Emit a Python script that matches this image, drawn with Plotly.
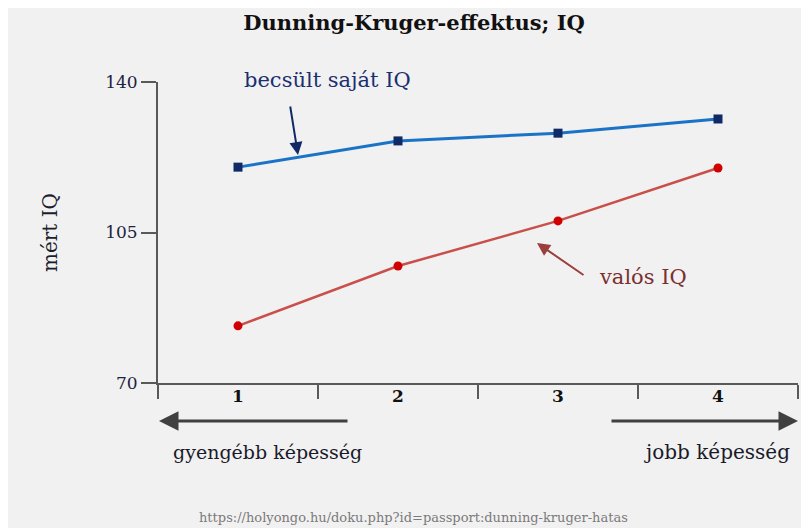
import plotly.graph_objects as go

categories = [1, 2, 3, 4]
becsult_iq = [120.2, 126.3, 128.1, 131.4]
valos_iq = [83.3, 97.2, 107.7, 120.0]
y_ticks = [70, 105, 140]
boundaries = [0.5, 1.5, 2.5, 3.5, 4.5]

SERIF = "DejaVu Serif"
OFF = 8  # page body margin

fig = go.Figure()
fig.add_trace(go.Scatter(
    x=categories, y=becsult_iq, mode="lines+markers",
    line=dict(color="#1a73c6", width=3),
    marker=dict(symbol="square", size=9, color="#0f2a66"),
    showlegend=False, hoverinfo="x+y"))
fig.add_trace(go.Scatter(
    x=categories, y=valos_iq, mode="lines+markers",
    line=dict(color="#c9504a", width=2.5),
    marker=dict(symbol="circle", size=9, color="#d00000"),
    showlegend=False, hoverinfo="x+y"))

W, H = 809, 528
L, T = 158 - OFF, 82 - OFF
PW, PH = 640, 301
R, B = W - L - PW, H - T - PH

def px(x):
    return (x - OFF - L) / PW

def py(y):
    return (T + PH - (y - OFF)) / PH

fig.update_layout(
    width=W, height=H,
    margin=dict(l=L, r=R, t=T, b=B),
    paper_bgcolor="#f1f1f1",
    plot_bgcolor="#f1f1f1",
    title=dict(text="<b>Dunning-Kruger-effektus; IQ</b>", x=px(414), xref="paper",
               xanchor="center", y=1 - (23 - OFF) / H, yanchor="middle",
               font=dict(family=SERIF, size=21, color="#111111")),
    xaxis=dict(range=[0.5, 4.5], tickvals=categories,
               ticktext=["<b>%d</b>" % c for c in categories],
               ticks="", showgrid=False, zeroline=False,
               showline=True, linecolor="#595959", linewidth=2,
               ticklabelstandoff=-3,
               tickfont=dict(family=SERIF, size=17, color="#111111"),
               minor=dict(tickvals=boundaries, ticks="outside", ticklen=14,
                          tickwidth=2, tickcolor="#595959", showgrid=False)),
    yaxis=dict(range=[70, 140], tickvals=y_ticks, ticks="outside", ticklen=15,
               tickwidth=2, tickcolor="#595959", showgrid=False, zeroline=False,
               showline=True, linecolor="#595959", linewidth=2,
               tickfont=dict(family=SERIF, size=17, color="#1c2340"),
               title=dict(text="mért IQ", standoff=42,
                          font=dict(family=SERIF, size=20, color="#1c1c2c"))),
)

def label(x, y, text, size, color):
    return dict(x=px(x), y=py(y), xref="paper", yref="paper", text=text,
                xanchor="center", yanchor="middle", showarrow=False,
                font=dict(family=SERIF, size=size, color=color))

def arrow(x, y, ax, ay, width, color, size=1.3):
    return dict(x=px(x), y=py(y), xref="paper", yref="paper", text="",
                showarrow=True, ax=ax, ay=ay, arrowhead=2, arrowsize=size,
                arrowwidth=width, arrowcolor=color)

annotations = [
    label(327, 80, "becsült saját IQ", 21, "#1b2f70"),
    arrow(298, 155, -8, -50, 2, "#0f2a66"),
    label(643, 277, "valós IQ", 21, "#7b3030"),
    arrow(537, 243, 48, 33, 2, "#9a3f3b"),
    arrow(159, 421, 190, 0, 3, "#404040"),
    arrow(798, 421, -188, 0, 3, "#404040"),
    label(267, 452, "gyengébb képesség", 19, "#1a1a2a"),
    label(717, 452, "jobb képesség", 20, "#1a1a2a"),
    label(413, 517, "https://holyongo.hu/doku.php?id=passport:dunning-kruger-hatas",
          13, "#7a7a7a"),
]
fig.update_layout(annotations=annotations)

fig.write_html("out.html")
